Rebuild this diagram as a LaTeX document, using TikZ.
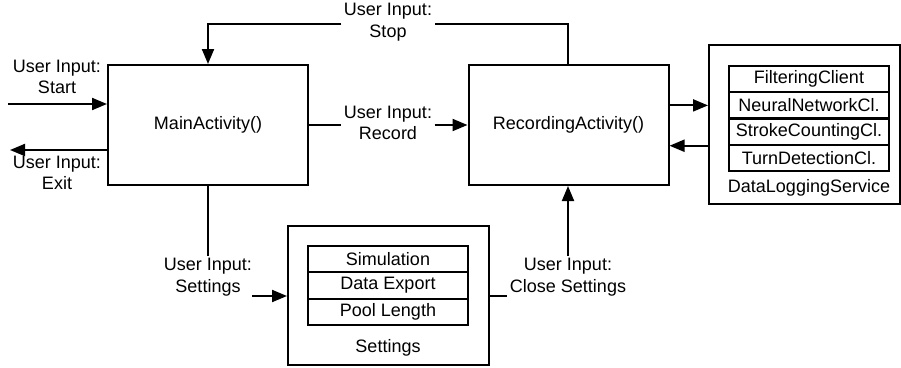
\documentclass[tikz,border=0pt]{standalone}
\usepackage{fontspec}
\setmainfont{Liberation Sans}
\usetikzlibrary{arrows.meta}
\begin{document}
\begin{tikzpicture}[x=1pt,y=-1pt, line width=2pt,
  every node/.style={font=\fontsize{18}{21.5}\selectfont},
  actbox/.style={draw, line width=2pt, minimum width=200pt, minimum height=120pt, inner sep=0pt},
  outerbox/.style={draw, line width=2pt, inner sep=0pt},
  rowbox/.style={draw, line width=2pt, minimum width=160pt, minimum height=26.25pt, inner sep=0pt},
  lbl/.style={align=center, inner sep=1.5pt},
  arr/.style={-{Triangle[length=15pt,width=12pt]}}]
\useasboundingbox (0,0) rectangle (901,367);

% main boxes
\node[actbox] (main) at (208,125) {MainActivity()};
\node[actbox] (rec) at (568.5,125) {RecordingActivity()};

% DataLoggingService
\node[outerbox, minimum width=191pt, minimum height=159pt] (dls) at (804.5,124.5) {};
\node[rowbox] (d1) at (809,79.1) {FilteringClient};
\node[rowbox] (d2) at (809,105.4) {NeuralNetworkCl.};
\node[rowbox] (d3) at (809,131.6) {StrokeCountingCl.};
\node[rowbox] (d4) at (809,157.9) {TurnDetectionCl.};
\node[inner sep=0pt] (dlslbl) at (809,188) {DataLoggingService};

% Settings
\node[outerbox, minimum width=201pt, minimum height=139pt] (set) at (388.5,295.5) {};
\node[rowbox, minimum height=26.3pt] (s1) at (388,259.2) {Simulation};
\node[rowbox, minimum height=26.3pt] (s2) at (388,285.5) {Data Export};
\node[rowbox, minimum height=26.3pt] (s3) at (388,311.8) {Pool Length};
\node[inner sep=0pt] (setlbl) at (388,348) {Settings};

% labels
\node[lbl] (lstart) at (57,77) {User Input:\\Start};
\node[lbl] (lexit) at (57,173) {User Input:\\Exit};
\node[lbl] (lstop) at (388,22) {User Input:\\Stop};
\node[lbl] (lrec) at (388,123) {User Input:\\Record};
\node[lbl] (lset) at (208,277) {User Input:\\Settings};
\node[lbl] (lclose) at (568,277) {User Input:\\Close Settings};

\coordinate (cstart) at (8,104);
\coordinate (cexit) at (10,150);
\coordinate (csetarr) at (252,296);
\coordinate (cstopR) at (568,24);
\coordinate (cstopL) at (208,24);

% connectors
\draw[arr] (cstart) -- (main.west |- cstart);
\draw[arr] (main.west |- cexit) -- (cexit);
\draw (main.east) -- (lrec.west |- main.east);
\draw[arr] (lrec.east |- main.east) -- (rec.west);
\draw (rec.north -| cstopR) -- (cstopR) -- (lstop.east |- cstopR);
\draw[arr] (lstop.west |- cstopL) -- (cstopL) -- (main.north);
\draw (main.south) -- (lset.north);
\draw[arr] (csetarr) -- (set.west |- csetarr);
\draw (set.east |- csetarr) -- (lclose.west |- csetarr);
\draw[arr] (lclose.north) -- (rec.south -| lclose.north);
\draw[arr] (rec.east |- d2) -- (dls.west |- d2);
\draw[arr] (dls.west |- d3.south) -- (rec.east |- d3.south);
\end{tikzpicture}
\end{document}
